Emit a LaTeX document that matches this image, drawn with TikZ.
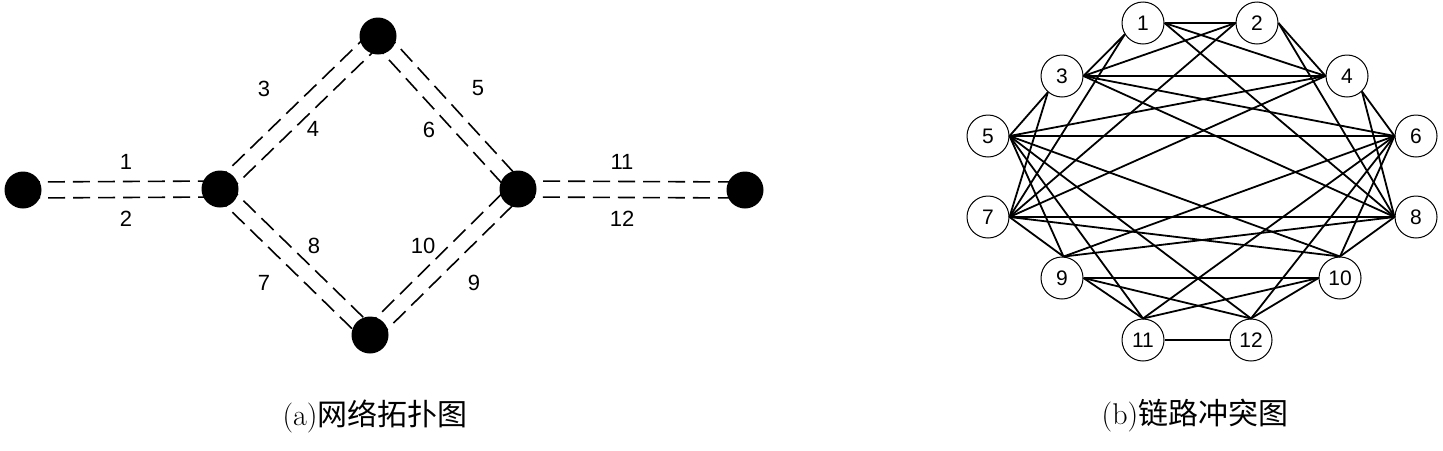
\documentclass[tikz,border=0pt]{standalone}
\usepackage{fontspec}
\setsansfont{Liberation Sans}
\newfontfamily\cjk{Noto Sans CJK SC}
\usetikzlibrary{calc}

\begin{document}
\begin{tikzpicture}[x=0.5pt, y=-0.5pt,
  dot/.style={circle, fill=black, inner sep=0pt, minimum size=18.5pt},
  link/.style={dash pattern=on 8.5pt off 4pt, line width=0.8pt},
  lab/.style={font=\sffamily\fontsize{11}{11}\selectfont},
  vert/.style={circle, draw, line width=0.5pt, inner sep=0pt, minimum size=21pt,
               font=\sffamily\fontsize{10.5}{10.5}\selectfont},
  conflict/.style={line width=0.9pt},
  caption/.style={font=\fontsize{15}{15}\selectfont},
]
  \useasboundingbox (0,0) rectangle (1443,450);

  % (a) network topology
  \node[dot] (A) at (23,190)    {};
  \node[dot] (B) at (220,189)   {};
  \node[dot] (C) at (378,36)    {};
  \node[dot] (D) at (518,189)   {};
  \node[dot] (E) at (370,335)   {};
  \node[dot] (F) at (745,190)   {};

  \foreach \u/\v in {A/B, B/C, C/D, B/E, E/D, D/F} {
    \draw[link] ($(\u)!4pt!90:(\v)$)  -- ($(\v)!4pt!-90:(\u)$);
    \draw[link] ($(\u)!4pt!-90:(\v)$) -- ($(\v)!4pt!90:(\u)$);
  }

  \node[lab] (l1)  at (126,162) {1};
  \node[lab] (l2)  at (126,219) {2};
  \node[lab] (l3)  at (264,89)  {3};
  \node[lab] (l4)  at (313,129) {4};
  \node[lab] (l5)  at (478,88)  {5};
  \node[lab] (l6)  at (429,130) {6};
  \node[lab] (l7)  at (264,283) {7};
  \node[lab] (l8)  at (314,246) {8};
  \node[lab] (l9)  at (474,283) {9};
  \node[lab] (l10) at (423,246) {10};
  \node[lab] (l11) at (622,162) {11};
  \node[lab] (l12) at (622,219) {12};

  % (b) link conflict graph
  \node[vert] (n1)  at (1143,23)  {1};
  \node[vert] (n2)  at (1257,23)  {2};
  \node[vert] (n3)  at (1062,76)  {3};
  \node[vert] (n4)  at (1347,76)  {4};
  \node[vert] (n5)  at (988,136)  {5};
  \node[vert] (n6)  at (1416,136) {6};
  \node[vert] (n7)  at (988,217)  {7};
  \node[vert] (n8)  at (1416,217) {8};
  \node[vert] (n9)  at (1062,278) {9};
  \node[vert] (n10) at (1340,278) {10};
  \node[vert] (n11) at (1143,340) {11};
  \node[vert] (n12) at (1251,340) {12};

  \foreach \a/\b in {n1.east/n2.west, n1.east/n4.west, n1.east/n8.west,
                     n1.212/n3.east, n1.212/n7.east,
                     n2.west/n3.east, n2.west/n7.east, n2.east/n4.west, n2.east/n8.west,
                     n3.east/n4.west, n3.east/n6.west, n3.east/n8.west,
                     n3.229/n5.east, n3.229/n7.east,
                     n4.west/n5.east, n4.west/n7.east, n4.-46/n6.west, n4.-46/n8.west,
                     n5.east/n6.west, n5.east/n9.86, n5.east/n10.north,
                     n5.east/n11.north, n5.east/n12.north,
                     n6.west/n9.86, n6.west/n10.north, n6.west/n11.north, n6.west/n12.north,
                     n7.east/n8.west, n7.east/n9.86, n7.east/n10.north,
                     n8.west/n9.86, n8.west/n10.north,
                     n9.east/n10.west, n9.east/n11.north, n9.east/n12.north,
                     n10.west/n11.north, n10.west/n12.north,
                     n11.east/n12.west}
    \draw[conflict] (\a) -- (\b);

  % captions
  \node[caption] (capa) at (375,416)  {(a)\cjk 网络拓扑图};
  \node[caption] (capb) at (1195,416) {(b)\cjk 链路冲突图};
\end{tikzpicture}
\end{document}
